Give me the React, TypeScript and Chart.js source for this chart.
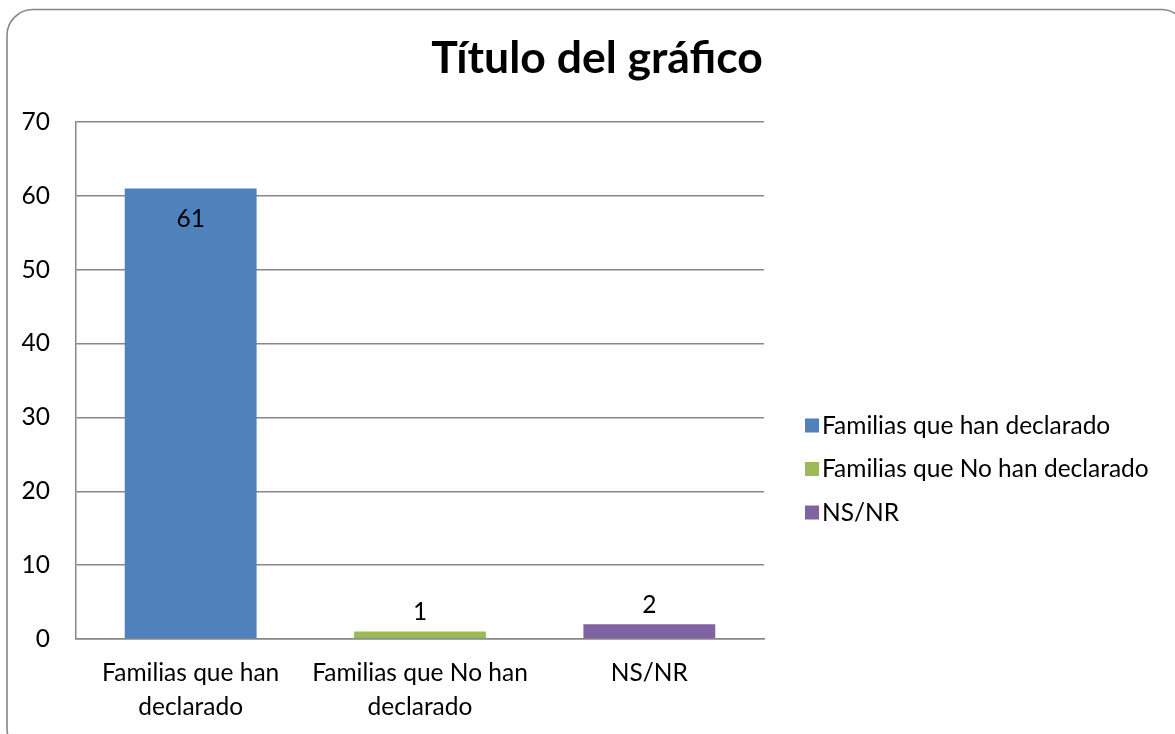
import React, { useEffect, useRef } from "react";
import { Chart, registerables } from "chart.js";

Chart.register(...registerables);

const chartTitle = "Título del gráfico";
const categories: string[][] = [
  ["Familias que han", "declarado"],
  ["Familias que No han", "declarado"],
  ["NS/NR"],
];
const legendLabels = ["Familias que han declarado", "Familias que No han declarado", "NS/NR"];
const values = [61, 1, 2];
const barColors = ["#4F81BD", "#9BBB59", "#8064A2"];
const yMin = 0;
const yMax = 70;
const yStep = 10;

const FONT = "Lato, 'Open Sans', sans-serif";
const GRID = "#878787";
const FS = 24.5;

const framePlugin = {
  id: "frame",
  beforeDraw(chart: any) {
    const ctx = chart.ctx;
    ctx.save();
    ctx.fillStyle = "#ffffff";
    ctx.fillRect(0, 0, chart.width, chart.height);
    const x = 7, y = 9.5, w = 1180, h = 745, r = 26;
    ctx.beginPath();
    ctx.moveTo(x + r, y);
    ctx.lineTo(x + w - r, y);
    ctx.arcTo(x + w, y, x + w, y + r, r);
    ctx.lineTo(x + w, y + h - r);
    ctx.arcTo(x + w, y + h, x + w - r, y + h, r);
    ctx.lineTo(x + r, y + h);
    ctx.arcTo(x, y + h, x, y + h - r, r);
    ctx.lineTo(x, y + r);
    ctx.arcTo(x, y, x + r, y, r);
    ctx.closePath();
    ctx.strokeStyle = GRID;
    ctx.lineWidth = 1.6;
    ctx.stroke();
    ctx.restore();
  },
};

const titlePlugin = {
  id: "customTitle",
  afterDraw(chart: any) {
    const ctx = chart.ctx;
    ctx.save();
    ctx.font = `bold 44.5px ${FONT}`;
    ctx.fillStyle = "#000";
    ctx.textAlign = "center";
    ctx.textBaseline = "alphabetic";
    ctx.fillText(chartTitle, 597, 73);
    ctx.restore();
  },
};

const legendPlugin = {
  id: "customLegend",
  afterDraw(chart: any) {
    const ctx = chart.ctx;
    ctx.save();
    ctx.font = `${FS}px ${FONT}`;
    ctx.textBaseline = "middle";
    ctx.textAlign = "left";
    legendLabels.forEach((lab, i) => {
      const cy = 425 + i * 43.5;
      ctx.fillStyle = barColors[i];
      ctx.fillRect(805, cy - 6.5, 14, 14);
      ctx.fillStyle = "#000";
      ctx.fillText(lab, 822, cy + 1);
    });
    ctx.restore();
  },
};

const labelPlugin = {
  id: "valueLabels",
  afterDatasetsDraw(chart: any) {
    const ctx = chart.ctx;
    const meta = chart.getDatasetMeta(0);
    const ds = chart.data.datasets[0];
    const maxV = Math.max(...(ds.data as number[]));
    ctx.save();
    ctx.font = `${FS}px ${FONT}`;
    ctx.fillStyle = "#000";
    ctx.textAlign = "center";
    meta.data.forEach((bar: any, i: number) => {
      const v = ds.data[i] as number;
      const inside = v > maxV / 2;
      if (inside) {
        ctx.textBaseline = "top";
        ctx.fillText(String(v), bar.x, bar.y + 18);
      } else {
        ctx.textBaseline = "bottom";
        ctx.fillText(String(v), bar.x, bar.y - 7);
      }
    });
    ctx.restore();
  },
};

export default function App() {
  const ref = useRef<HTMLCanvasElement>(null);
  useEffect(() => {
    if (!ref.current) return;
    const chart = new Chart(ref.current, {
      type: "bar",
      data: {
        labels: categories,
        datasets: [
          {
            data: values,
            backgroundColor: barColors,
            borderWidth: 0,
            categoryPercentage: 1,
            barPercentage: 0.575,
          },
        ],
      },
      options: {
        animation: false,
        responsive: false,
        maintainAspectRatio: false,
        layout: { padding: { left: 20, top: 122, right: 411, bottom: 0 } },
        plugins: {
          legend: { display: false },
          title: { display: false },
          tooltip: { enabled: false },
        },
        scales: {
          x: {
            grid: { display: false, drawTicks: false },
            border: { display: true, color: GRID, width: 1.5 },
            ticks: {
              color: "#000",
              font: { family: FONT, size: FS, lineHeight: 1.35 },
              padding: 18,
              maxRotation: 0,
              autoSkip: false,
            },
            afterFit(scale: any) {
              scale.height = 95;
            },
          },
          y: {
            min: yMin,
            max: yMax,
            grid: { color: GRID, lineWidth: 1.5, drawTicks: false },
            border: { display: true, color: GRID, width: 1.5 },
            ticks: {
              stepSize: yStep,
              color: "#000",
              font: { family: FONT, size: FS },
              padding: 26,
            },
            afterFit(scale: any) {
              scale.width = 56;
            },
          },
        },
      },
      plugins: [framePlugin, titlePlugin, legendPlugin, labelPlugin],
    });
    return () => chart.destroy();
  }, []);
  return (
    <div style={{ position: "absolute", left: 0, top: 0, width: 1175, height: 734 }}>
      <canvas ref={ref} width={1175} height={734} style={{ width: 1175, height: 734 }} />
    </div>
  );
}
